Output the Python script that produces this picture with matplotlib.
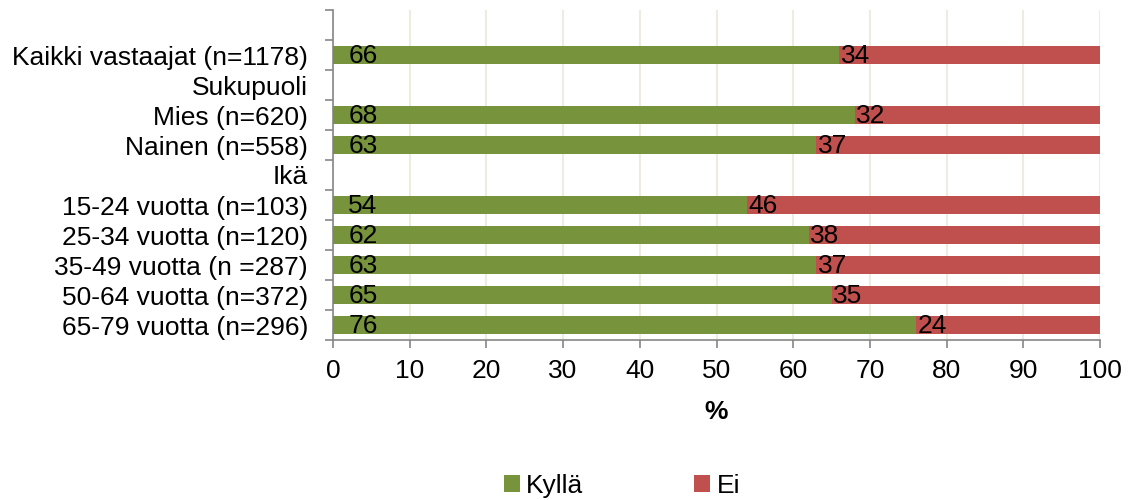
import matplotlib
matplotlib.use("Agg")
import matplotlib.pyplot as plt
import numpy as np
from matplotlib.patches import Patch

categories = ["", "Kaikki vastaajat (n=1178)", "Sukupuoli", "Mies (n=620)", "Nainen (n=558)",
              "Ikä", "15-24 vuotta (n=103)", "25-34 vuotta (n=120)", "35-49 vuotta (n =287)",
              "50-64 vuotta (n=372)", "65-79 vuotta (n=296)"]
kylla = [None, 66, None, 68, 63, None, 54, 62, 63, 65, 76]
ei = [None, 34, None, 32, 37, None, 46, 38, 37, 35, 24]
series_names = ["Kyllä", "Ei"]
xticks = [0, 10, 20, 30, 40, 50, 60, 70, 80, 90, 100]

green = "#77933C"
red = "#C0504D"
grid_c = "#EEECE1"
spine_c = "#868686"

plt.rcParams['font.family'] = ['Liberation Sans', 'DejaVu Sans']
fs = 19

fig = plt.figure(figsize=(11.34, 5.0), dpi=100)
ax = fig.add_axes([333/1134, 1-340/500, (1100-333)/1134, 330/500])

y = np.arange(len(categories))
for i, (k, e) in enumerate(zip(kylla, ei)):
    if k is None:
        continue
    ax.barh(i, k, height=0.6, color=green, zorder=3)
    ax.barh(i, e, left=k, height=0.6, color=red, zorder=3)
    ax.text(2.0, i + 0.03, str(k), va="center", ha="left", fontsize=fs, color="black", zorder=4)
    ax.text(k + 0.2, i + 0.03, str(e), va="center", ha="left", fontsize=fs, color="black", zorder=4)

ax.set_xlim(0, 100)
ax.set_ylim(len(categories) - 0.5, -0.5)
ax.set_xticks(xticks)
ax.set_xticklabels([str(t) for t in xticks], fontsize=fs)
ax.set_yticks(y)
ax.set_yticklabels(categories, fontsize=fs)
ax.tick_params(axis="y", which="major", length=0, pad=18)
ax.set_yticks(np.arange(-0.5, len(categories), 1.0), minor=True)
ax.tick_params(axis="y", which="minor", length=6, width=1.2, color=spine_c, direction="out")
ax.tick_params(axis="x", which="major", length=6, width=1.2, color=spine_c, direction="out", pad=8)
ax.xaxis.grid(True, color=grid_c, linewidth=1.5, zorder=0)
ax.set_axisbelow(True)
for s in ["top", "right"]:
    ax.spines[s].set_visible(False)
for s in ["left", "bottom"]:
    ax.spines[s].set_color(spine_c)
    ax.spines[s].set_linewidth(1.2)

ax.set_xlabel("%", fontsize=fs, fontweight="bold", labelpad=12)

handles = [Patch(facecolor=green, edgecolor="none"), Patch(facecolor=red, edgecolor="none")]
fig.legend(handles, series_names, loc="center", bbox_to_anchor=(622/1134, 1-486/500),
           ncol=2, frameon=False, fontsize=fs, handlelength=0.6, handleheight=0.6,
           handletextpad=0.25, columnspacing=4.2)

fig.savefig("out.png", dpi=100)
